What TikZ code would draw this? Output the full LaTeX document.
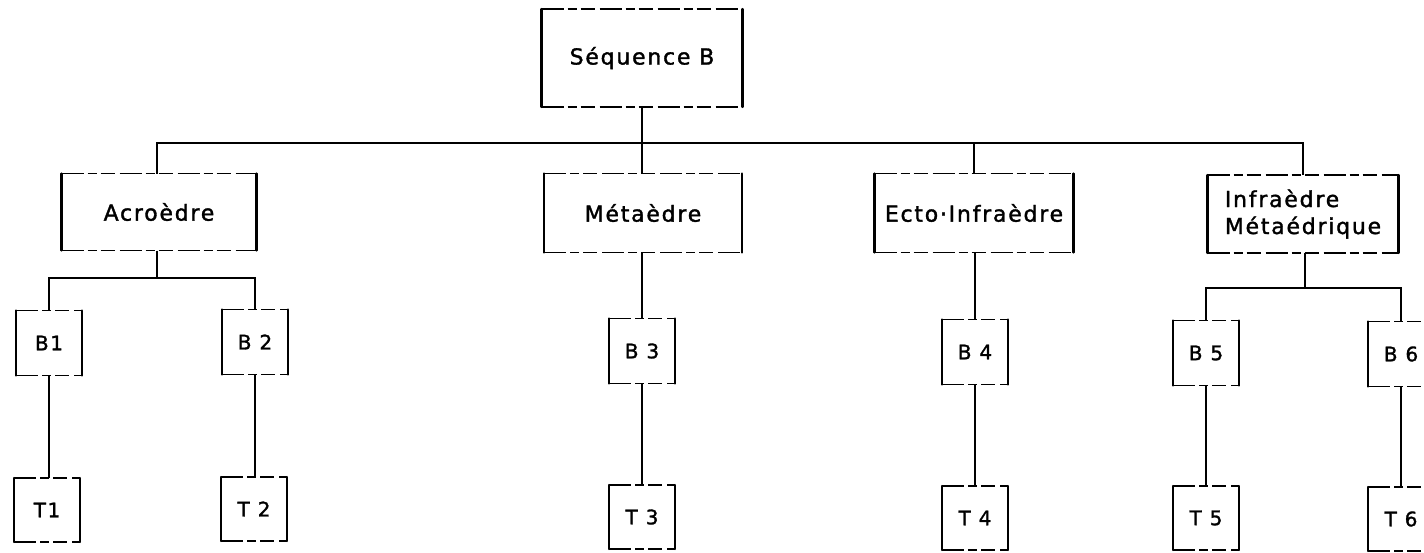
\documentclass[tikz,border=0pt]{standalone}
\usepackage{fontspec}
\setmainfont{DejaVu Sans}[LetterSpace=8,FakeBold=1.5]
\begin{document}
\begin{tikzpicture}[x=1pt,y=-1pt,
  lbl/.style={inner sep=0pt, outer sep=0pt, font=\fontsize{22}{27}\selectfont},
  small/.style={inner sep=0pt, outer sep=0pt, minimum width=66pt, minimum height=65pt, font=\fontsize{20}{24}\selectfont},
  side/.style={line width=2.1pt, line cap=round},
  topbot/.style={line width=1.7pt, dash pattern=on 22pt off 4pt on 9pt off 4pt on 14pt off 5pt},
  link/.style={line width=2.2pt}]
\useasboundingbox (0,0) rectangle (1424,552);
\clip (0,0) rectangle (1424,552);
\newcommand\frameit[1]{%
  \draw[side] (#1.north west) -- (#1.south west) (#1.north east) -- (#1.south east);
  \draw[topbot] (#1.north west) -- (#1.north east) (#1.south west) -- (#1.south east);}
% top level
\node[lbl, minimum width=201pt, minimum height=98pt] (seq) at (642,58) {Séquence B};
\node[lbl, minimum width=195pt, minimum height=77pt] (acro) at (159,212) {Acroèdre};
\node[lbl, minimum width=198pt, minimum height=79pt] (meta) at (643,213) {Métaèdre};
\node[lbl, minimum width=199pt, minimum height=79pt] (ecto) at (974,213) {Ecto·Infraèdre};
\node[lbl, minimum width=191pt, minimum height=78pt, align=left] (infra) at (1303,214) {Infraèdre\\Métaédrique};
% second level
\node[small] (b1) at (49,343) {B1};
\node[small] (b2) at (255,342) {B 2};
\node[small] (b3) at (642,351) {B 3};
\node[small] (b4) at (975,352) {B 4};
\node[small] (b5) at (1206,353) {B 5};
\node[small] (b6) at (1401,354) {B 6};
% third level
\node[small, minimum height=64pt] (t1) at (47,510) {T1};
\node[small, minimum height=64pt] (t2) at (254,509) {T 2};
\node[small, minimum height=64pt] (t3) at (642,517) {T 3};
\node[small, minimum height=64pt] (t4) at (975,518) {T 4};
\node[small, minimum height=64pt] (t5) at (1206,518) {T 5};
\node[small, minimum height=64pt] (t6) at (1401,519) {T 6};
\foreach \n in {seq,acro,meta,ecto,infra,b1,b2,b3,b4,b5,b6,t1,t2,t3,t4,t5,t6}{\frameit{\n}}
% connectors
\coordinate (hub) at (642,143);
\coordinate (ahub) at (157,278);
\coordinate (ihub) at (1305,288);
\draw[link] (seq.south) -- (hub);
\draw[link] (acro.north -| ahub) -- (ahub |- hub) -- (infra.north |- hub) -- (infra.north);
\draw[link] (hub) -- (meta.north -| hub);
\draw[link] (ecto.north) -- (ecto.north |- hub);
\draw[link] (acro.south -| ahub) -- (ahub);
\draw[link] (b1.north) -- (b1.north |- ahub) -- (b2.north |- ahub) -- (b2.north);
\draw[link] (infra.south -| ihub) -- (ihub);
\draw[link] (b5.north) -- (b5.north |- ihub) -- (b6.north |- ihub) -- (b6.north);
\draw[link] (meta.south -| b3.north) -- (b3.north);
\draw[link] (ecto.south -| b4.north) -- (b4.north);
\draw[link] (b1.south) -- (t1.north -| b1.south);
\draw[link] (b2.south) -- (t2.north -| b2.south);
\draw[link] (b3.south) -- (t3.north);
\draw[link] (b4.south) -- (t4.north);
\draw[link] (b5.south) -- (t5.north);
\draw[link] (b6.south) -- (t6.north);
\end{tikzpicture}
\end{document}
